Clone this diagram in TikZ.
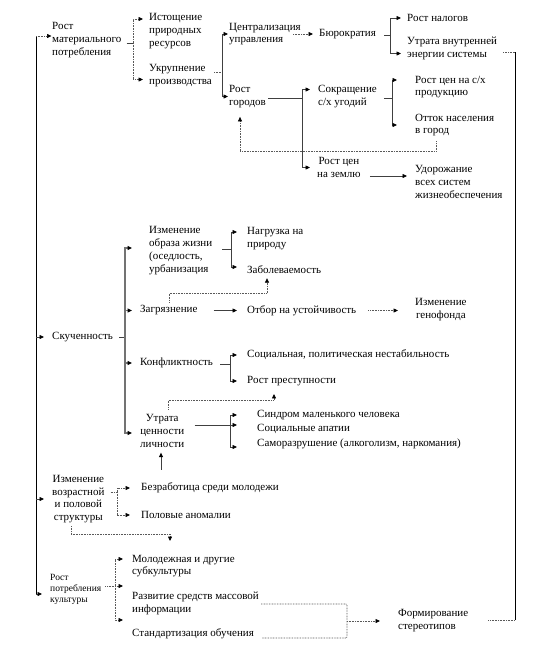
\documentclass[tikz,border=0pt]{standalone}
\usepackage{fontspec}
\setmainfont{Liberation Serif}
\usetikzlibrary{arrows.meta}
\newcommand\txtsz{\fontsize{11}{12.8}\selectfont}
\newcommand\smallsz{\fontsize{9.5}{11}\selectfont}

\begin{document}
\begin{tikzpicture}[
    x=1pt, y=-1pt,
    lbl/.style={
        font=\txtsz,
        inner sep=0pt,
        anchor=west,
        align=left
    },
    lblc/.style={lbl, align=center},
    solidln/.style={draw=black!75, line width=0.7pt},
    dotln/.style={draw=black!65, line width=0.7pt, dash pattern=on 0.8pt off 0.8pt},
    spine/.style={draw=black!55, line width=1.1pt},
    mainln/.style={draw=black, line width=0.8pt},
    dblln/.style={draw=black!55, line width=0.5pt, double=white, double distance=1.2pt},
    arr/.style={-{Triangle[length=4.5pt,width=4pt,color=black]}}
]
    \useasboundingbox (0,0) rectangle (550,649);

    % --- MATERIAL CONSUMPTION BRANCH ---
    \node[lbl] (mat) at (52,40) {Рост\\материального\\потребления};
    \node[lbl] (ist) at (149,31) {Истощение\\природных\\ресурсов};
    \node[lbl] (ukr) at (149,75.5) {Укрупнение\\производства};
    \node[lbl] (centr) at (229,34) {Централизация\\управления};
    \node[lbl] (gor) at (229,96.5) {Рост\\городов};
    \node[lbl] (bur) at (319,34) {Бюрократия};
    \node[lbl] (nal) at (407,18) {Рост налогов};
    \node[lbl] (energ) at (407,48.5) {Утрата внутренней\\энергии системы};
    \node[lbl] (sokr) at (318,96.5) {Сокращение\\с/х угодий};
    \node[lbl] (cenx) at (415,87) {Рост цен на с/х\\продукцию};
    \node[lbl] (ottok) at (415,125) {Отток населения\\в город};
    \node[lblc] (zeml) at (317,167.5) {Рост цен\\на землю};
    \node[lbl] (udor) at (415,182) {Удорожание\\всех систем\\жизнеобеспечения};

    \coordinate (trtop) at (36,36);
    \coordinate (trbot) at (36,594);
    \coordinate (j1) at (133,43);
    \coordinate (j2) at (222,72);
    \coordinate (j3) at (390,35);
    \coordinate (j4) at (302,98);
    \coordinate (j5) at (392,98);
    \coordinate (rtop) at (515,52);
    \coordinate (rbot) at (515,620);

    \draw[mainln] (trtop) -- (trbot);
    \draw[dotln, arr, shorten >=0.5pt] (trtop) -- (trtop -| mat.west);

    \draw[solidln, shorten <=5pt] (mat.east |- j1) -- (j1);
    \draw[dotln, arr, shorten >=6pt] (j1) |- ([yshift=12pt]ist.west);
    \draw[dotln, arr, shorten >=6pt] (j1) |- ([yshift=-4pt]ukr.west);

    \draw[dotln, shorten <=2pt] (ukr.east |- j2) -- (j2);
    \draw[solidln, arr, shorten >=1pt] (j2) |- (centr.west);
    \draw[solidln, arr, shorten >=1pt] (j2) |- (gor.west);

    \draw[dotln, arr, shorten >=6pt] ([xshift=64pt]centr.west) -- (bur.west);

    \draw[solidln, shorten <=8pt] (bur.east |- j3) -- (j3);
    \draw[solidln, arr, shorten >=6pt] (j3) |- (nal.west);
    \draw[solidln, arr, shorten >=6pt] (j3) |- ([yshift=-5pt]energ.west);

    \draw[dotln, shorten <=6pt] (energ.east |- rtop) -- (rtop);
    \draw[mainln] (rtop) -- (rbot);

    \draw[solidln, shorten <=2pt] (gor.east |- j4) -- (j4);
    \draw[solidln, arr, shorten >=8pt] (j4) |- ([yshift=7pt]sokr.west);
    \draw[solidln, arr, shorten >=7pt] (j4) |- (zeml.west);

    \draw[solidln, shorten <=7pt] (sokr.east |- j5) -- (j5);
    \draw[solidln, arr, shorten >=18pt] (j5) |- ([yshift=7pt]cenx.west);
    \draw[solidln, arr, shorten >=18pt] (j5) |- (ottok.west);

    % feedback to the cities
    \draw[dotln, arr, shorten >=9pt] ([xshift=21pt,yshift=-5pt]ottok.south west) -- ++(0,10) -| ([xshift=11pt]gor.south west);

    \draw[solidln, arr, shorten <=9pt, shorten >=8pt] ([yshift=-8.5pt]zeml.east) -- ([yshift=6pt]udor.west);

    % --- CROWDING BRANCH ---
    \node[lbl] (skuch) at (52,337) {Скученность};
    \node[lbl] (obraz) at (149,250.5) {Изменение\\образа жизни\\(оседлость,\\урбанизация};
    \node[lbl] (nagr) at (247,238.5) {Нагрузка на\\природу};
    \node[lbl] (zabol) at (247,270) {Заболеваемость};
    \node[lbl] (zagr) at (140,310.5) {Загрязнение};
    \node[lbl] (otbor) at (247,310.5) {Отбор на устойчивость};
    \node[lblc] (genof) at (415,309.5) {Изменение\\генофонда};
    \node[lbl] (konf) at (140,363) {Конфликтность};
    \node[lbl] (socpol) at (247,355) {Социальная, политическая нестабильность};
    \node[lbl] (prest) at (247,381) {Рост преступности};
    \node[lblc] (utr) at (140,431) {Утрата\\ценности\\личности};
    \node[lbl] (sindr) at (257,415) {Синдром маленького человека};
    \node[lbl] (apat) at (257,429) {Социальные апатии};
    \node[lbl] (samor) at (257,444) {Саморазрушение (алкоголизм, наркомания)};

    \coordinate (j6) at (125,337);
    \coordinate (j7) at (231,249);
    \coordinate (j8) at (230,364);
    \coordinate (j9) at (230,425);

    \draw[solidln, arr, shorten >=8pt] (trtop |- skuch.west) -- (skuch.west);

    \draw[solidln, shorten <=6pt] (skuch.east |- j6) -- (j6);
    \draw[spine, arr, shorten >=17pt] (j6) |- ([yshift=2.5pt]obraz.west);
    \draw[spine, arr, shorten >=8pt] (j6) |- (zagr.west);
    \draw[spine, arr, shorten >=8pt] (j6) |- (konf.west);
    \draw[spine, arr, shorten >=8pt] (j6) |- ([yshift=-2pt]utr.west);

    \draw[solidln, shorten <=10pt] (obraz.east |- j7) -- (j7);
    \draw[solidln, arr, shorten >=10pt] (j7) |- ([yshift=6.5pt]nagr.west);
    \draw[solidln, arr, shorten >=10pt] (j7) |- ([yshift=3pt]zabol.west);

    \draw[dotln, arr] ([xshift=29pt,yshift=3pt]zagr.north west) -- ++(0,-9) -| ([xshift=20pt,yshift=-4pt]zabol.south west);
    \draw[solidln, arr, shorten <=16pt, shorten >=10pt] (zagr.east) -- (otbor.west);
    \draw[dotln, arr, shorten <=12pt, shorten >=17pt] (otbor.east) -- (genof.west |- otbor.east);

    \draw[solidln, shorten <=7pt] (konf.east |- j8) -- (j8);
    \draw[solidln, arr, shorten >=10pt] (j8) |- (socpol.west);
    \draw[solidln, arr, shorten >=10pt] (j8) |- (prest.west);

    \draw[dotln, arr] ([xshift=28pt,yshift=5pt]utr.north west) -- ++(0,-9) -| ([xshift=27pt,yshift=-8pt]prest.south west);

    \draw[solidln, shorten <=10pt] (utr.east |- j9) -- (j9);
    \draw[solidln, arr, shorten >=20pt] (j9) -- (apat.west |- j9);
    \draw[solidln, arr, shorten >=20pt] (j9) |- (sindr.west);
    \draw[solidln, arr, shorten >=20pt] (j9) |- ([yshift=-3pt]samor.west);

    \draw[dblln, shorten <=10pt] (sindr.east) -- (rtop |- sindr.east);

    % --- AGE STRUCTURE BRANCH ---
    \node[lblc] (vozr) at (52,499) {Изменение\\возрастной\\и половой\\структуры};
    \node[lbl] (bezr) at (141,488) {Безработица среди молодежи};
    \node[lbl] (polov) at (141,515) {Половые аномалии};

    \coordinate (j10) at (117,492);
    \coordinate (dn) at (170,541);

    \draw[solidln, arr, shorten >=8pt] (trtop |- vozr.west) -- (vozr.west);
    \draw[dotln, shorten <=6pt] (vozr.east |- j10) -- (j10);
    \draw[dotln, arr, shorten >=11pt] (j10) |- (bezr.west);
    \draw[dotln, arr, shorten >=11pt] (j10) |- (polov.west);

    \draw[solidln, arr] ([xshift=20pt,yshift=13pt]bezr.north west) -- ([xshift=21pt,yshift=-5pt]utr.south west);
    \draw[dotln, arr] ([xshift=19pt,yshift=-3pt]vozr.south west) -- ++(0,8) -| (dn);

    % --- CULTURE CONSUMPTION BRANCH ---
    \node[lbl, font=\smallsz] (kult) at (50,589) {Рост\\потребления\\культуры};
    \node[lbl] (subk) at (132,566) {Молодежная и другие\\субкультуры};
    \node[lbl] (smi) at (132,603.5) {Развитие средств массовой\\информации};
    \node[lbl] (stand) at (132,634) {Стандартизация обучения};
    \node[lbl] (stereo) at (398,620.5) {Формирование\\стереотипов};

    \coordinate (j11) at (115,586);
    \coordinate (mtop) at (347,604);
    \coordinate (mbot) at (347,638);
    \coordinate (j12) at (347,621);

    \draw[solidln, arr, shorten >=8pt] (trbot) -- (trbot -| kult.west);
    \draw[dotln, arr, shorten <=4pt, shorten >=9pt] (kult.east |- j11) -- (smi.west |- j11);
    \draw[dotln, arr, shorten >=9pt] (j11) |- ([yshift=7pt]subk.west);
    \draw[dotln, arr, shorten >=9pt] (j11) |- ([yshift=14pt]stand.west);

    \draw[dotln, rounded corners=1pt, shorten <=2pt, shorten >=8pt] (smi.east |- mtop) -- (mtop) -- (mbot) -- (stand.east |- mbot);
    \draw[dotln, arr, shorten >=18pt] (j12) -- (stereo.west |- j12);
    \draw[dotln, shorten <=20pt] (stereo.east |- rbot) -- (rbot);
\end{tikzpicture}
\end{document}
